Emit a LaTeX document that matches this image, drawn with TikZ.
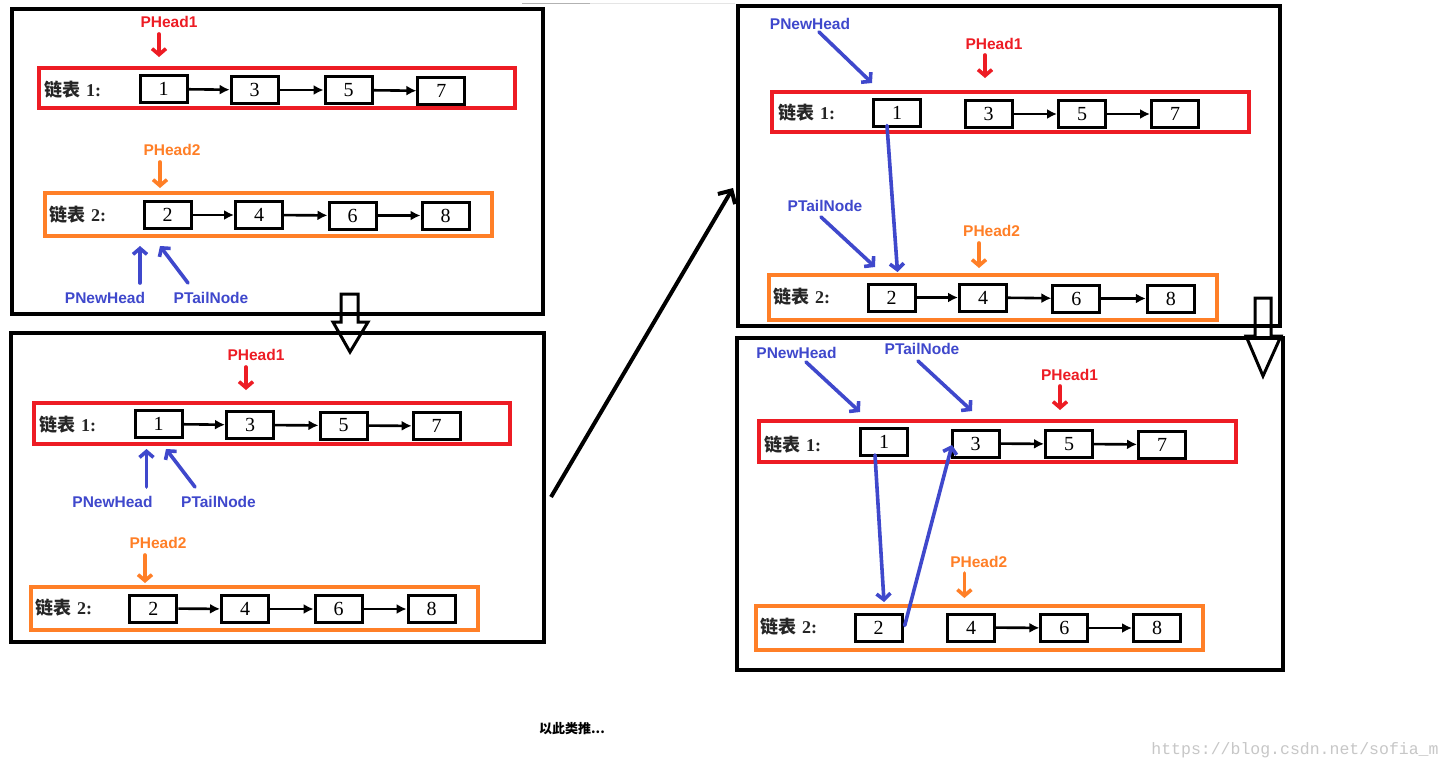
\documentclass[tikz,border=0pt]{standalone}
\usepackage{fontspec}
\setmainfont{Liberation Serif}
\newfontfamily\cjk{Noto Sans CJK SC}
\newfontfamily\lblf{Liberation Sans}
\newfontfamily\wmf{Liberation Mono}
\usetikzlibrary{arrows.meta}
\definecolor{pred}{RGB}{237,28,36}
\definecolor{porange}{RGB}{255,127,39}
\definecolor{pblue}{RGB}{63,72,204}
\tikzset{
  lnode/.style={draw, line width=3pt, minimum width=47pt, minimum height=27pt, inner sep=0pt,
    font=\fontsize{20}{20}\selectfont},
  link/.style={line width=2.6pt, -{Latex[length=10pt,width=10pt]}},
  panel/.style={draw, line width=4.5pt},
  redbox/.style={draw=pred, line width=4pt},
  orgbox/.style={draw=porange, line width=4pt},
  ptr/.style={line width=3.6pt, line cap=round, -{Straight Barb[length=6pt,width=14pt]}},
  lbl/.style={inner sep=0pt, font=\lblf\bfseries\fontsize{15.5}{15.5}\selectfont},
  listlbl/.style={inner sep=0pt, anchor=west, text=black!85, font=\cjk\bfseries\fontsize{18}{18}\selectfont},
  hollow/.style={line width=3pt, line join=miter},
  bigarrow/.style={line width=4pt, -{Straight Barb[length=10pt,width=20pt]}}
}
\newcommand{\lname}[1]{链表\hspace{6pt}{\rmfamily\bfseries #1:}}
\begin{document}
\begin{tikzpicture}[x=1pt,y=-1pt]
\useasboundingbox (0,0) rectangle (1450,771);
\fill[white] (0,0) rectangle (1450,771);

% artefacts at top
\draw[gray!60, line width=1pt] (522,3) -- (590,3);
\draw[gray!20, line width=1pt] (590,3) -- (735,3);
\draw[gray!40, line width=1pt] (883,7) -- (900,7);

% ================= Panel A (top left) =================
\draw[panel] (12,9) rectangle (543,314);
\draw[redbox] (39,68) rectangle (515,108);
\draw[orgbox] (45,193) rectangle (492,236);
\node[listlbl] (a-l1) at (44,90) {\lname{1}};
\node[lnode] (a1) at (163.6,89) {1};
\node[lnode] (a3) at (254.7,90) {3};
\node[lnode] (a5) at (348.6,90) {5};
\node[lnode] (a7) at (441.4,91) {7};
\draw[link] (a1) -- (a3);
\draw[link] (a3) -- (a5);
\draw[link] (a5) -- (a7);
\node[listlbl] (a-l2) at (49,215) {\lname{2}};
\node[lnode] (a2) at (167.5,215) {2};
\node[lnode] (a4) at (259,215) {4};
\node[lnode] (a6) at (352.5,215.5) {6};
\node[lnode] (a8) at (445.5,215.5) {8};
\draw[link] (a2) -- (a4);
\draw[link] (a4) -- (a6);
\draw[link] (a6) -- (a8);
\node[lbl, text=pred] (a-h1) at (169,22) {PHead1};
\coordinate (a-h1s) at (159,34); \coordinate (a-h1e) at (159,57);
\draw[ptr, pred] (a-h1s) -- (a-h1e);
\node[lbl, text=porange] (a-h2) at (172,150) {PHead2};
\coordinate (a-h2s) at (160,162); \coordinate (a-h2e) at (160,188);
\draw[ptr, porange] (a-h2s) -- (a-h2e);
\node[lbl, text=pblue] (a-nh) at (105,298) {PNewHead};
\coordinate (a-nhs) at (140,283); \coordinate (a-nhe) at (140,246);
\draw[ptr, pblue] (a-nhs) -- (a-nhe);
\node[lbl, text=pblue] (a-tn) at (211,298) {PTailNode};
\coordinate (a-tns) at (188,283); \coordinate (a-tne) at (160,246);
\draw[ptr, pblue] (a-tns) -- (a-tne);

% hollow down arrow 1
\draw[hollow] (341,294) -- (358,294) -- (358,322) -- (368,322) -- (350,352) -- (333,322) -- (341,322) -- cycle;

% ================= Panel B (bottom left) =================
\draw[panel] (11,333) rectangle (544,642);
\draw[redbox] (34,402.5) rectangle (510,443.5);
\draw[orgbox] (31,587) rectangle (478,630);
\node[listlbl] (b-l1) at (39,425) {\lname{1}};
\node[lnode] (b1) at (158.5,424) {1};
\node[lnode] (b3) at (250,425) {3};
\node[lnode] (b5) at (343.5,425.5) {5};
\node[lnode] (b7) at (436.7,426) {7};
\draw[link] (b1) -- (b3);
\draw[link] (b3) -- (b5);
\draw[link] (b5) -- (b7);
\node[listlbl] (b-l2) at (35,608) {\lname{2}};
\node[lnode] (b2) at (153.3,608.5) {2};
\node[lnode] (b4) at (245,609) {4};
\node[lnode] (b6) at (338.6,609) {6};
\node[lnode] (b8) at (431.6,609) {8};
\draw[link] (b2) -- (b4);
\draw[link] (b4) -- (b6);
\draw[link] (b6) -- (b8);
\node[lbl, text=pred] (b-h1) at (256,355) {PHead1};
\coordinate (b-h1s) at (246,367); \coordinate (b-h1e) at (246,390);
\draw[ptr, pred] (b-h1s) -- (b-h1e);
\node[lbl, text=pblue] (b-nh) at (112.5,502) {PNewHead};
\coordinate (b-nhs) at (146.5,487); \coordinate (b-nhe) at (146.5,449);
\draw[ptr, pblue] (b-nhs) -- (b-nhe);
\node[lbl, text=pblue] (b-tn) at (218.5,502) {PTailNode};
\coordinate (b-tns) at (195,487); \coordinate (b-tne) at (166,449);
\draw[ptr, pblue] (b-tns) -- (b-tne);
\node[lbl, text=porange] (b-h2) at (158,543) {PHead2};
\coordinate (b-h2s) at (145,555); \coordinate (b-h2e) at (145,583);
\draw[ptr, porange] (b-h2s) -- (b-h2e);

% big arrow between panels
\coordinate (big-s) at (551,497); \coordinate (big-e) at (733,188);
\draw[bigarrow] (big-s) -- (big-e);

% ================= Panel C (top right) =================
\draw[panel] (738,6) rectangle (1280,326);
\draw[redbox] (772,91.5) rectangle (1248.5,131.5);
\draw[orgbox] (768.6,275) rectangle (1217,319.5);
\node[listlbl] (c-l1) at (778,113) {\lname{1}};
\node[lnode] (c1) at (897,112.5) {1};
\node[lnode] (c3) at (988.5,114) {3};
\node[lnode] (c5) at (1082,114) {5};
\node[lnode] (c7) at (1175,114) {7};
\draw[link] (c3) -- (c5);
\draw[link] (c5) -- (c7);
\node[listlbl] (c-l2) at (773,297) {\lname{2}};
\node[lnode] (c2) at (891.5,297.5) {2};
\node[lnode] (c4) at (983,297.5) {4};
\node[lnode] (c6) at (1076.4,298.5) {6};
\node[lnode] (c8) at (1170.8,298.5) {8};
\draw[link] (c2) -- (c4);
\draw[link] (c4) -- (c6);
\draw[link] (c6) -- (c8);
\node[lbl, text=pblue] (c-nh) at (810,23.5) {PNewHead};
\coordinate (c-nhs) at (819,32); \coordinate (c-nhe) at (872,83);
\draw[ptr, pblue] (c-nhs) -- (c-nhe);
\node[lbl, text=pred] (c-h1) at (994,43.5) {PHead1};
\coordinate (c-h1s) at (985,55); \coordinate (c-h1e) at (985,78);
\draw[ptr, pred] (c-h1s) -- (c-h1e);
\coordinate (c-ne) at (897.5,272);
\draw[ptr, pblue] ([xshift=-10pt,yshift=2pt]c1.south) -- (c-ne);
\node[lbl, text=pblue] (c-tn) at (825,206) {PTailNode};
\coordinate (c-tns) at (821,217); \coordinate (c-tne) at (875,267);
\draw[ptr, pblue] (c-tns) -- (c-tne);
\node[lbl, text=porange] (c-h2) at (991.6,231) {PHead2};
\coordinate (c-h2s) at (979,243); \coordinate (c-h2e) at (979,268);
\draw[ptr, porange] (c-h2s) -- (c-h2e);

% hollow down arrow 2
\draw[hollow] (1255,298) -- (1271,298) -- (1271,336) -- (1281,336) -- (1263,376) -- (1246,336) -- (1255,336) -- cycle;

% ================= Panel D (bottom right) =================
\draw[panel] (737,338) rectangle (1283,670);
\draw[redbox] (758.5,421) rectangle (1235.5,462);
\draw[orgbox] (755.6,605.5) rectangle (1203.4,649.5);
\node[listlbl] (d-l1) at (764,445) {\lname{1}};
\node[lnode] (d1) at (884,442) {1};
\node[lnode] (d3) at (975.5,443.5) {3};
\node[lnode] (d5) at (1069,444) {5};
\node[lnode] (d7) at (1162,444.5) {7};
\draw[link] (d3) -- (d5);
\draw[link] (d5) -- (d7);
\node[listlbl] (d-l2) at (760,627) {\lname{2}};
\node[lnode] (d2) at (878.7,627.5) {2};
\node[lnode] (d4) at (971,627.5) {4};
\node[lnode] (d6) at (1064.4,628) {6};
\node[lnode] (d8) at (1157,628) {8};
\draw[link] (d4) -- (d6);
\draw[link] (d6) -- (d8);
\node[lbl, text=pblue] (d-nh) at (796.5,353.3) {PNewHead};
\coordinate (d-nhs) at (806,362); \coordinate (d-nhe) at (860,412);
\draw[ptr, pblue] (d-nhs) -- (d-nhe);
\node[lbl, text=pblue] (d-tn) at (922,349.3) {PTailNode};
\coordinate (d-tns) at (918,361); \coordinate (d-tne) at (972,411);
\draw[ptr, pblue] (d-tns) -- (d-tne);
\node[lbl, text=pred] (d-h1) at (1069.5,374.7) {PHead1};
\coordinate (d-h1s) at (1060,386); \coordinate (d-h1e) at (1060,410);
\draw[ptr, pred] (d-h1s) -- (d-h1e);
\coordinate (d-ne) at (884,602);
\draw[ptr, pblue] ([xshift=-9pt,yshift=2pt]d1.south) -- (d-ne);
\coordinate (d-te) at (952,445);
\draw[ptr, pblue] ([xshift=1pt,yshift=2pt]d2.east) -- (d-te);
\node[lbl, text=porange] (d-h2) at (978.7,561.7) {PHead2};
\coordinate (d-h2s) at (964.4,573); \coordinate (d-h2e) at (964.4,598);
\draw[ptr, porange] (d-h2s) -- (d-h2e);

% bottom texts
\node[inner sep=0pt, font=\cjk\bfseries\fontsize{13}{13}\selectfont] (etc) at (572,729) {以此类推...};
\node[inner sep=0pt, text=black!22, font=\wmf\fontsize{16.5}{16.5}\selectfont] (wm) at (1295,750) {https://blog.csdn.net/sofia\_m};
\end{tikzpicture}
\end{document}
